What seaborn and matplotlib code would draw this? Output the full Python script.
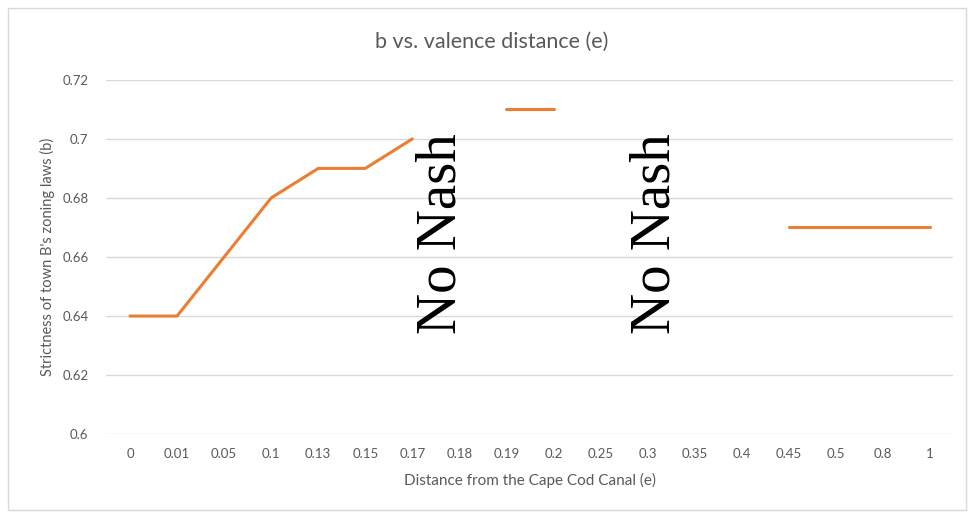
import numpy as np
import pandas as pd
import seaborn as sns
import matplotlib.pyplot as plt
from matplotlib.patches import Rectangle
from matplotlib.ticker import FormatStrFormatter

# data
e_labels = ['0', '0.01', '0.05', '0.1', '0.13', '0.15', '0.17', '0.18', '0.19',
            '0.2', '0.25', '0.3', '0.35', '0.4', '0.45', '0.5', '0.8', '1']
b_values = [0.64, 0.64, 0.66, 0.68, 0.69, 0.69, 0.70, np.nan, 0.71,
            0.71, np.nan, np.nan, np.nan, np.nan, 0.67, 0.67, 0.67, 0.67]
no_nash_at = ['0.18', '0.3']

df = pd.DataFrame({'e': e_labels, 'b': b_values})
df['pos'] = np.arange(len(df))
# split into connected pieces so the gaps stay empty
df['seg'] = df['b'].isna().cumsum()
df = df.dropna()

sns.set_style('white')
plt.rcParams['font.family'] = ['Lato', 'DejaVu Sans']
txt = '#595959'

fig = plt.figure(figsize=(9.68, 5.15), dpi=100)
ax = fig.add_axes([0.110, 0.157, 0.875, 0.688])

sns.lineplot(data=df, x='pos', y='b', units='seg', estimator=None,
             color='#ED7D31', linewidth=2.2, ax=ax)

ax.set_xlim(-0.5, len(e_labels) - 0.5)
ax.set_ylim(0.6, 0.72)
ax.set_xticks(range(len(e_labels)))
ax.set_xticklabels(e_labels)
ax.set_yticks(np.arange(0.6, 0.7201, 0.02))
ax.yaxis.set_major_formatter(FormatStrFormatter('%g'))
ax.tick_params(axis='both', length=0, labelsize=9.5, labelcolor=txt)
ax.tick_params(axis='y', pad=13)
ax.tick_params(axis='x', pad=10)
ax.grid(axis='y', color='#d9d9d9', linewidth=1)
ax.set_axisbelow(True)
sns.despine(ax=ax, left=True, bottom=True, top=True, right=True)

fig.text(0.508, 0.918, 'b vs. valence distance (e)', fontsize=15.5, color=txt,
         ha='center', va='center')
ax.set_xlabel('Distance from the Cape Cod Canal (e)', fontsize=11, color=txt, labelpad=9)
ax.set_ylabel("Strictness of town B's zoning laws (b)", fontsize=10.5, color=txt, labelpad=5)

# small per-label nudges to match where the notes sit in the original
nudge = {'0.18': -0.37, '0.3': 0.16}
for lab in no_nash_at:
    i = e_labels.index(lab)
    ax.text(i + nudge[lab], 0.668, 'No Nash', rotation=90, ha='center', va='center',
            fontsize=41, family='Liberation Serif', color='black')

fig.patches.append(Rectangle((0.008, 0.01), 0.99, 0.975, transform=fig.transFigure,
                             fill=False, edgecolor='#d9d9d9', linewidth=1))

fig.savefig('out.png', dpi=100)
